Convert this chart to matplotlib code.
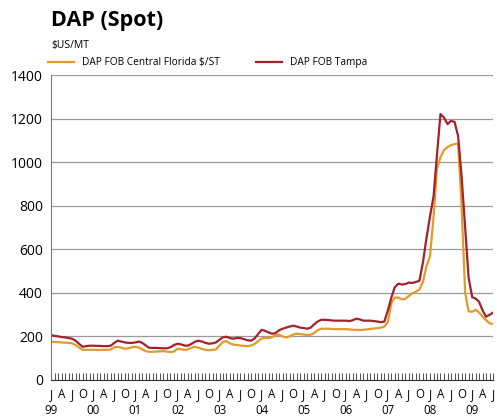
import pandas as pd
import numpy as np
import matplotlib
matplotlib.use('Agg')
import matplotlib.pyplot as plt
import matplotlib.dates as mdates

# giá DAP theo tháng, 01/1999 -> 07/2009 ($US/MT)
tampa = [205, 202, 200, 197, 195, 192, 189, 180, 165, 152, 155, 157,
         157, 156, 156, 155, 155, 157, 170, 180, 176, 172, 170, 170,
         172, 176, 170, 158, 147, 147, 147, 146, 145, 145, 150, 160,
         166, 163, 158, 157, 165, 175, 180, 176, 170, 166, 168, 172,
         185, 196, 198, 192, 189, 193, 192, 187, 182, 180, 190, 210,
         230, 225, 218, 212, 215, 228, 235, 240, 245, 249, 245, 240,
         238, 235, 240, 255, 268, 276, 276, 275, 273, 272, 272, 272,
         272, 270, 274, 281, 278, 272, 272, 272, 270, 268, 265, 268,
         320, 380, 425, 442, 438, 440, 447, 445, 450, 455, 540, 650,
         750, 843, 1030, 1221, 1205, 1175, 1189, 1185, 1120, 936, 700, 470,
         380, 373, 359, 320, 290, 299, 309]
florida = [175, 174, 173, 172, 171, 170, 168, 160, 148, 138, 138, 138,
           138, 138, 138, 138, 138, 140, 150, 152, 148, 143, 145, 150,
           152, 148, 140, 132, 129, 129, 130, 131, 132, 130, 128, 130,
           143, 140, 138, 140, 148, 152, 148, 142, 138, 136, 138, 140,
           158, 175, 178, 168, 162, 160, 158, 156, 155, 158, 165, 178,
           190, 193, 192, 196, 205, 207, 200, 195, 200, 208, 212, 210,
           208, 206, 207, 215, 228, 235, 235, 235, 234, 233, 233, 233,
           233, 232, 230, 230, 229, 230, 232, 234, 236, 238, 240, 245,
           267, 355, 378, 378, 370, 372, 385, 398, 405, 415, 450, 521,
           567, 750, 968, 1023, 1055, 1069, 1078, 1083, 1085, 800, 400, 315,
           313, 322, 310, 290, 275, 260, 257]
months = pd.date_range('1999-01-01', periods=len(tampa), freq='MS')
quarter_letters = {1: 'J', 4: 'A', 7: 'J', 10: 'O'}

plt.rcParams['font.family'] = ['Open Sans', 'DejaVu Sans']

fig = plt.figure(figsize=(4.97, 4.17), dpi=100)
ax = fig.add_axes([0.103, 0.089, 0.889, 0.731])

ax.plot(months, florida, color='#E39A2A', lw=1.6, label='DAP FOB Central Florida $/ST')
ax.plot(months, tampa, color='#A3222A', lw=1.6, label='DAP FOB Tampa')

ax.set_ylim(0, 1400)
ax.set_yticks(range(0, 1401, 200))
ax.set_xlim(months[0], months[-1])
ax.grid(axis='y', color='#9a9a9a', lw=0.9)
ax.set_axisbelow(True)
for s in ['top', 'right']:
    ax.spines[s].set_visible(False)
ax.spines['left'].set_color('#777777')
ax.spines['bottom'].set_color('#333333')

# nhãn quý J A J O và năm bên dưới
qt = [d for d in months if d.month in quarter_letters]
ql = [quarter_letters[d.month] + ('\n' + d.strftime('%y') if d.month == 1 else '') for d in qt]
ax.set_xticks(qt)
ax.set_xticklabels(ql, fontsize=8.3, linespacing=1.25)
ax.xaxis.set_minor_locator(mdates.MonthLocator())
ax.tick_params(axis='x', which='both', direction='in', length=5, width=0.6, color='#333333', pad=6)
ax.tick_params(axis='y', length=0, labelsize=10, pad=6)

fig.text(0.103, 0.952, 'DAP (Spot)', fontsize=15.5, fontweight='bold', va='center')
fig.text(0.103, 0.892, '$US/MT', fontsize=7.5, va='center')
fig.legend(loc='center left', bbox_to_anchor=(0.088, 0.849), ncol=2, frameon=False,
           fontsize=7.3, handlelength=2.6, columnspacing=3.5, borderaxespad=0)

plt.savefig('out.png', dpi=100)
